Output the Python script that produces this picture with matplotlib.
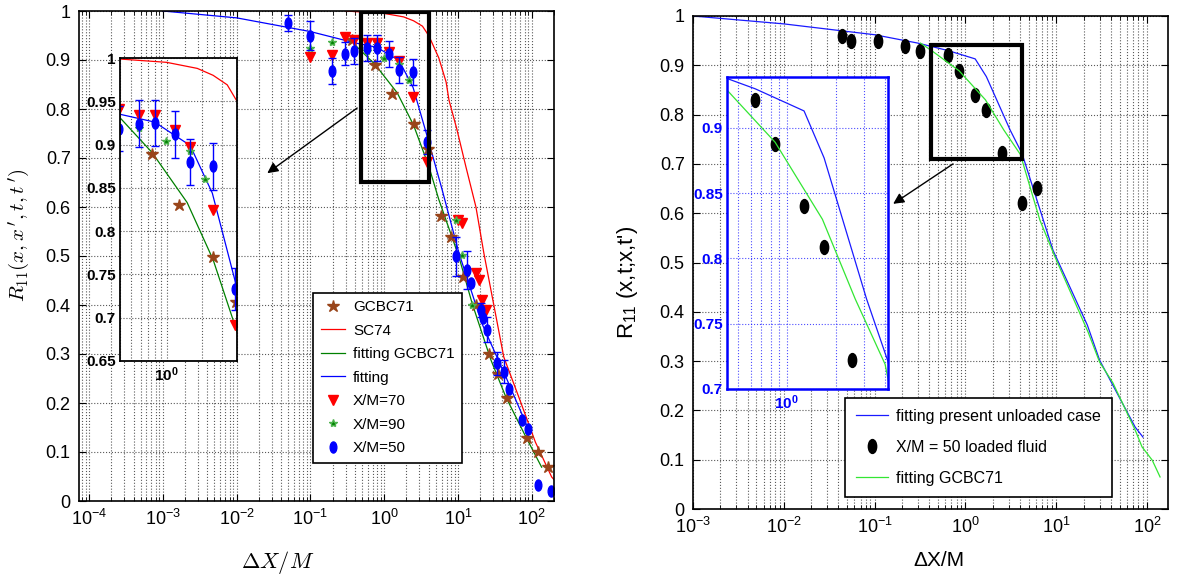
import matplotlib
matplotlib.use("Agg")
import matplotlib.pyplot as plt
import numpy as np
from matplotlib.path import Path
from matplotlib.patches import Rectangle
from matplotlib.ticker import FixedLocator, NullLocator, LogLocator, NullFormatter
from matplotlib.transforms import Affine2D

plt.rcParams["font.family"] = ["Liberation Sans", "DejaVu Sans"]
plt.rcParams["mathtext.fontset"] = "custom"
plt.rcParams["mathtext.rm"] = "Liberation Sans"
plt.rcParams["mathtext.it"] = "Liberation Sans:italic"
plt.rcParams["mathtext.bf"] = "Liberation Sans:bold"

# ---- left panel data ----
sc74_x = [0.3, 1.0, 1.83, 2.5, 3.3, 4.04, 5.5, 6.9, 7.55, 9.6, 12.8, 17.5, 22.4, 41.7, 66.7, 112, 186, 210]
sc74_y = [1.0, 0.995, 0.988, 0.98, 0.969, 0.949, 0.904, 0.855, 0.818, 0.760, 0.682, 0.60, 0.506, 0.294, 0.212, 0.12, 0.049, 0.04]

fit_gcbc_x = [0.4, 0.75, 1.5, 2.5, 4.04, 5.5, 10.3, 15.5, 27.9, 44.6, 83, 136]
fit_gcbc_y = [0.931, 0.891, 0.833, 0.767, 0.682, 0.615, 0.498, 0.404, 0.288, 0.212, 0.131, 0.069]

fit_x = [0.001, 0.01, 0.1, 0.4, 0.79, 1.59, 2.46, 4.0, 6.1, 10.3, 21, 44.6, 91]
fit_y = [1.0, 0.986, 0.958, 0.935, 0.926, 0.899, 0.844, 0.734, 0.635, 0.506, 0.363, 0.253, 0.145]

gcbc_x = [0.37, 0.75, 1.28, 2.5, 3.96, 5.8, 7.96, 11.7, 17.3, 26.2, 34.7, 46.4, 86.5, 120, 166]
gcbc_y = [0.94, 0.889, 0.830, 0.770, 0.718, 0.582, 0.539, 0.458, 0.40, 0.30, 0.259, 0.210, 0.128, 0.10, 0.07]

xm70_x = [0.099, 0.196, 0.297, 0.39, 0.58, 0.79, 1.17, 1.6, 2.47, 3.85, 10.1, 11.4, 17.3, 19.2, 21, 23.7]
xm70_y = [0.907, 0.910, 0.946, 0.941, 0.934, 0.934, 0.917, 0.897, 0.825, 0.692, 0.573, 0.567, 0.466, 0.452, 0.41, 0.39]

xm90_x = [0.099, 0.196, 0.58, 0.98, 1.59, 2.15, 9.5, 11.2, 15.3]
xm90_y = [0.924, 0.936, 0.919, 0.904, 0.892, 0.860, 0.573, 0.502, 0.40]

xm50_x = [0.049, 0.099, 0.196, 0.297, 0.39, 0.58, 0.79, 1.17, 1.6, 2.47, 3.85, 9.3, 13.4, 15.1,
          20.2, 22, 24.4, 34, 41.9, 48.9, 72.6, 87.5, 120, 184]
xm50_y = [0.975, 0.950, 0.878, 0.913, 0.918, 0.924, 0.925, 0.912, 0.880, 0.875, 0.733, 0.499, 0.471, 0.444,
          0.39, 0.373, 0.350, 0.281, 0.264, 0.228, 0.165, 0.147, 0.033, 0.021]
xm50_err = [0.016, 0.030, 0.027, 0.024, 0.026, 0.027, 0.027, 0.027, 0.027, 0.027, 0.024, 0.039, 0.039, 0.0,
            0.015, 0.0, 0.025, 0.024, 0.024, 0.0, 0.0, 0.0, 0.0, 0.0]

# ---- right panel data ----
unloaded_x = [0.001, 0.01, 0.1, 0.3, 0.64, 1.28, 1.7, 3.1, 4.2, 9.2, 22, 30, 48, 74, 90]
unloaded_y = [1.0, 0.984, 0.962, 0.945, 0.930, 0.913, 0.877, 0.769, 0.721, 0.525, 0.373, 0.302, 0.231, 0.166, 0.146]

gcbc_fit_r_x = [0.32, 0.43, 0.85, 1.66, 2.64, 4.03, 6.6, 9.7, 22.4, 30, 42, 74, 88, 114, 139]
gcbc_fit_r_y = [0.945, 0.929, 0.889, 0.830, 0.769, 0.719, 0.586, 0.511, 0.359, 0.298, 0.256, 0.160, 0.126, 0.099, 0.065]

loaded_x = [0.0438, 0.055, 0.109, 0.216, 0.316, 0.643, 0.851, 1.28, 1.69, 2.53, 4.2, 6.15]
loaded_y = [0.959, 0.949, 0.949, 0.939, 0.929, 0.921, 0.888, 0.840, 0.809, 0.722, 0.621, 0.651]

BROWN = (0.6, 0.27, 0.1)
DKGREEN = (0.0, 0.5, 0.0)
LTGREEN = (0.2, 0.9, 0.2)
ellipse = Path.unit_circle().transformed(Affine2D().scale(0.6, 1.0))

W, H = 1177, 575
fig = plt.figure(figsize=(W / 100, H / 100), dpi=100)


def px_axes(l, t, r, b):
    return fig.add_axes([l / W, 1 - b / H, (r - l) / W, (b - t) / H])


def style_main(ax):
    ax.set_xscale("log")
    ax.tick_params(which="both", direction="in", top=True, right=True, labelsize=13)
    ax.tick_params(which="major", length=5, pad=6)
    ax.tick_params(which="minor", length=3)
    ax.xaxis.set_minor_locator(LogLocator(base=10, subs=np.arange(2, 10)))
    ax.xaxis.set_minor_formatter(NullFormatter())
    ax.yaxis.set_minor_locator(NullLocator())
    ax.grid(True, which="major", linestyle=":", color="0.35", linewidth=0.8)
    ax.grid(True, which="minor", axis="x", linestyle=":", color="0.35", linewidth=0.8)
    for s in ax.spines.values():
        s.set_linewidth(1.2)


def draw_left(ax):
    ax.plot(sc74_x, sc74_y, color="r", lw=0.9, label="SC74")
    ax.plot(fit_gcbc_x, fit_gcbc_y, color=DKGREEN, lw=0.9, label="fitting GCBC71")
    ax.plot(fit_x, fit_y, color="b", lw=0.9, label="fitting")
    ax.plot(gcbc_x, gcbc_y, ls="none", marker="*", ms=9, color=BROWN, mec=BROWN, label="GCBC71")
    ax.plot(xm70_x, xm70_y, ls="none", marker="v", ms=7, color="r", label="X/M=70")
    ax.plot(xm90_x, xm90_y, ls="none", marker="*", ms=6, color=DKGREEN, mec=(0.3, 0.7, 0.3),
            label="X/M=90")
    err = np.array(xm50_err)
    m = err > 0
    ax.errorbar(np.array(xm50_x)[m], np.array(xm50_y)[m], yerr=err[m], fmt="none",
                ecolor="b", elinewidth=1, capsize=3)
    ax.plot(xm50_x, xm50_y, ls="none", marker=ellipse, ms=8, color="b", label="X/M=50")


# ================= left panel =================
axL = px_axes(79, 11, 554, 501)
style_main(axL)
draw_left(axL)
axL.set_xlim(7.3e-5, 200)
axL.set_ylim(0, 1)
axL.set_xticks([1e-4, 1e-3, 1e-2, 1e-1, 1e0, 1e1, 1e2])
axL.set_yticks(np.round(np.arange(0, 1.01, 0.1), 1))
axL.set_yticklabels(["0"] + [f"{v:.1f}" for v in np.arange(0.1, 0.95, 0.1)] + ["1"])
axL.set_xlabel(r"$\Delta X/M$", fontsize=16, math_fontfamily="cm")
axL.xaxis.set_label_coords(0.419, -0.098)
axL.set_ylabel(r"$R_{11}(x,x\,',t,t\,')$", fontsize=15, math_fontfamily="cm")
axL.yaxis.set_label_coords(-0.099, 0.543)
axL.add_patch(Rectangle((0.48, 0.652), 4.0 - 0.48, 0.345, fill=False, lw=3, ec="k", zorder=6))
axL.annotate("", xy=(0.026, 0.669), xytext=(0.43, 0.802),
             arrowprops=dict(arrowstyle="-|>", color="k", lw=1, mutation_scale=16, shrinkA=0, shrinkB=0))
h, l = axL.get_legend_handles_labels()
order = ["GCBC71", "SC74", "fitting GCBC71", "fitting", "X/M=70", "X/M=90", "X/M=50"]
hh = [h[l.index(o)] for o in order]
legL = axL.legend(hh, order, loc="lower left", bbox_to_anchor=(0.493, 0.078), borderaxespad=0,
                  fontsize=11, fancybox=False, edgecolor="k", framealpha=1, labelspacing=0.62,
                  handlelength=1.6, handletextpad=0.5, borderpad=0.5)
legL.get_frame().set_linewidth(1.2)

insL = px_axes(120, 58, 237, 361)
draw_left(insL)
insL.set_xscale("log")
insL.set_xlim(0.4, 4.0)
insL.set_ylim(0.65, 1.0)
insL.xaxis.set_major_locator(FixedLocator([1.0]))
insL.set_xticklabels([r"$\mathbf{10^{0}}$"])
insL.xaxis.set_minor_locator(LogLocator(base=10, subs=np.arange(2, 10)))
insL.xaxis.set_minor_formatter(NullFormatter())
insL.set_yticks([0.65, 0.7, 0.75, 0.8, 0.85, 0.9, 0.95, 1.0])
insL.set_yticklabels(["0.65", "0.7", "0.75", "0.8", "0.85", "0.9", "0.95", "1"], fontweight="bold")
insL.tick_params(which="both", direction="in", length=0, labelsize=11, pad=3)
insL.grid(True, which="major", linestyle=":", color="0.35", linewidth=0.8)
insL.grid(True, which="minor", axis="x", linestyle=":", color="0.35", linewidth=0.8)
for s in insL.spines.values():
    s.set_linewidth(1.3)

# ================= right panel =================
axR = px_axes(693, 16, 1168, 509)


def draw_right(ax):
    ax.plot(unloaded_x, unloaded_y, color=(0.1, 0.1, 1.0), lw=0.9, label="fitting present unloaded case")
    ax.plot(loaded_x, loaded_y, ls="none", marker=ellipse, ms=10, color="k", label="X/M = 50 loaded fluid")
    ax.plot(gcbc_fit_r_x, gcbc_fit_r_y, color=LTGREEN, lw=0.9, label="fitting GCBC71")


style_main(axR)
draw_right(axR)
axR.set_xlim(1e-3, 170)
axR.set_ylim(0, 1)
axR.set_xticks([1e-3, 1e-2, 1e-1, 1e0, 1e1, 1e2])
axR.set_yticks(np.round(np.arange(0, 1.01, 0.1), 1))
axR.set_yticklabels(["0"] + [f"{v:.1f}" for v in np.arange(0.1, 0.95, 0.1)] + ["1"])
axR.set_xlabel("ΔX/M", fontsize=15)
axR.xaxis.set_label_coords(0.518, -0.085)
axR.set_ylabel("R$_{11}$ (x,t;x,t')", fontsize=16)
axR.yaxis.set_label_coords(-0.112, 0.46)
axR.add_patch(Rectangle((0.42, 0.71), 4.2 - 0.42, 0.231, fill=False, lw=3, ec="k", zorder=6))
axR.annotate("", xy=(0.16, 0.619), xytext=(0.73, 0.70),
             arrowprops=dict(arrowstyle="-|>", color="k", lw=1, mutation_scale=16, shrinkA=0, shrinkB=0))
legR = axR.legend(loc="lower left", bbox_to_anchor=(0.32, 0.024), borderaxespad=0, fontsize=11.5,
                  fancybox=False, edgecolor="k", framealpha=1, labelspacing=1.0, handlelength=2.0,
                  handletextpad=0.5, borderpad=0.7)
legR.get_frame().set_linewidth(1.2)

insR = px_axes(727, 77, 888, 389)
draw_right(insR)
insR.set_xscale("log")
insR.set_xlim(0.43, 4.2)
insR.set_ylim(0.7, 0.939)
insR.xaxis.set_major_locator(FixedLocator([1.0]))
insR.set_xticklabels([r"$\mathbf{10^{0}}$"], color="b")
insR.xaxis.set_minor_locator(LogLocator(base=10, subs=np.arange(2, 10)))
insR.xaxis.set_minor_formatter(NullFormatter())
insR.set_yticks([0.7, 0.75, 0.8, 0.85, 0.9])
insR.set_yticklabels(["0.7", "0.75", "0.8", "0.85", "0.9"], fontweight="bold", color="b")
insR.tick_params(which="both", direction="in", length=0, labelsize=11, pad=3)
insR.grid(True, which="major", linestyle=":", color="b", linewidth=0.8, alpha=0.7)
insR.grid(True, which="minor", axis="x", linestyle=":", color="b", linewidth=0.8, alpha=0.7)
for s in insR.spines.values():
    s.set_linewidth(1.8)
    s.set_color("b")

fig.savefig("out.png", dpi=100)
